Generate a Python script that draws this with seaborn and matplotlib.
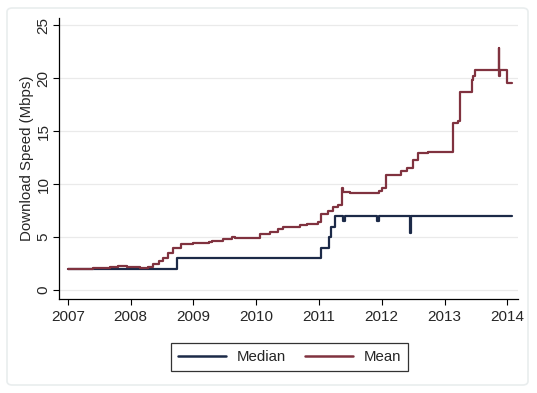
import matplotlib
matplotlib.use("Agg")
import matplotlib.pyplot as plt
import seaborn as sns
import pandas as pd
from matplotlib.patches import FancyBboxPatch

# Median download speed (step change points: fractional year, Mbps)
median_time = [2007.0, 2008.74, 2011.03, 2011.16, 2011.19, 2011.26, 2011.39, 2011.41,
               2011.93, 2011.95, 2012.45, 2012.46, 2014.07]
median_value = [2.0, 3.0, 4.0, 5.0, 6.0, 7.0, 6.5, 7.0, 6.5, 7.0, 5.4, 7.0, 7.0]

# Mean download speed
mean_time = [2007.0, 2007.4, 2007.67, 2007.8, 2007.95, 2008.15, 2008.28, 2008.36, 2008.45,
             2008.52, 2008.6, 2008.68, 2008.8, 2009.0, 2009.25, 2009.3, 2009.47, 2009.62,
             2009.67, 2010.06, 2010.22, 2010.35, 2010.43, 2010.7, 2010.81, 2010.99, 2011.03,
             2011.15, 2011.22, 2011.3, 2011.37, 2011.39, 2011.5, 2011.95, 2012.0, 2012.06,
             2012.3, 2012.4, 2012.5, 2012.57, 2012.74, 2013.14, 2013.22, 2013.25, 2013.43,
             2013.46, 2013.49, 2013.86, 2013.87, 2013.89, 2014.0, 2014.07]
mean_value = [2.0, 2.1, 2.2, 2.3, 2.2, 2.1, 2.2, 2.5, 2.7,
              3.0, 3.5, 4.0, 4.3, 4.4, 4.5, 4.6, 4.8, 5.0,
              4.9, 5.3, 5.5, 5.8, 6.0, 6.1, 6.2, 6.4, 7.2,
              7.5, 7.8, 8.0, 9.6, 9.3, 9.2, 9.4, 9.6, 10.9,
              11.2, 11.5, 12.3, 12.9, 13.0, 15.8, 16.0, 18.7, 19.8,
              20.2, 20.8, 22.9, 20.2, 20.8, 19.6, 19.6]

x_ticks = [2007, 2008, 2009, 2010, 2011, 2012, 2013, 2014]
y_ticks = [0, 5, 10, 15, 20, 25]

df = pd.concat([
    pd.DataFrame({"time": median_time, "speed": median_value, "series": "Median"}),
    pd.DataFrame({"time": mean_time, "speed": mean_value, "series": "Mean"}),
], ignore_index=True)

sns.set_style("white")
plt.rcParams["font.family"] = ["Liberation Sans", "DejaVu Sans"]

fig = plt.figure(figsize=(5.37, 3.93), dpi=100)
fig.patch.set_facecolor("white")
border = FancyBboxPatch((7 / 537, 8 / 393), 521 / 537, 377 / 393,
                        boxstyle="round,pad=0,rounding_size=0.01",
                        transform=fig.transFigure, facecolor="none",
                        edgecolor="#e9edee", linewidth=1.2, zorder=-5)
fig.patches.append(border)

ax = fig.add_axes([59 / 537, 1 - 299 / 393, (518 - 59) / 537, (299 - 18) / 393])
ax.set_facecolor("none")

palette = {"Median": "#1c2a48", "Mean": "#80323f"}
sns.lineplot(data=df, x="time", y="speed", hue="series", hue_order=["Median", "Mean"],
             palette=palette, estimator=None, sort=False, drawstyle="steps-post",
             linewidth=1.6, ax=ax, legend=True)

ax.set_xlim(2006.86, 2014.17)
ax.set_ylim(-0.85, 25.7)
ax.set_xticks(x_ticks)
ax.set_xticklabels([str(t) for t in x_ticks])
ax.set_yticks(y_ticks)
ax.set_yticklabels([str(t) for t in y_ticks], rotation=90, va="center")
ax.set_xlabel("")
ax.set_ylabel("Download Speed (Mbps)", fontsize=10.8, labelpad=2)
ax.tick_params(axis="both", labelsize=11, length=4, width=0.8, direction="out",
               color="black", left=True, bottom=True)
ax.tick_params(axis="x", pad=4)
ax.tick_params(axis="y", pad=2)
ax.yaxis.grid(True, color="#eaeaea", linewidth=0.9)
ax.xaxis.grid(False)
for s in ["top", "right"]:
    ax.spines[s].set_visible(False)
for s in ["left", "bottom"]:
    ax.spines[s].set_color("black")
    ax.spines[s].set_linewidth(0.9)

leg = ax.legend(loc="upper center", bbox_to_anchor=(0.502, -0.157), borderaxespad=0,
                ncol=2, frameon=True, fontsize=10.8, handlelength=3.2, columnspacing=1.3,
                handletextpad=0.7, borderpad=0.45, fancybox=False, edgecolor="black")
leg.get_frame().set_linewidth(0.9)
for line in leg.get_lines():
    line.set_linewidth(1.8)

fig.savefig("out.png", dpi=100, facecolor="white")
